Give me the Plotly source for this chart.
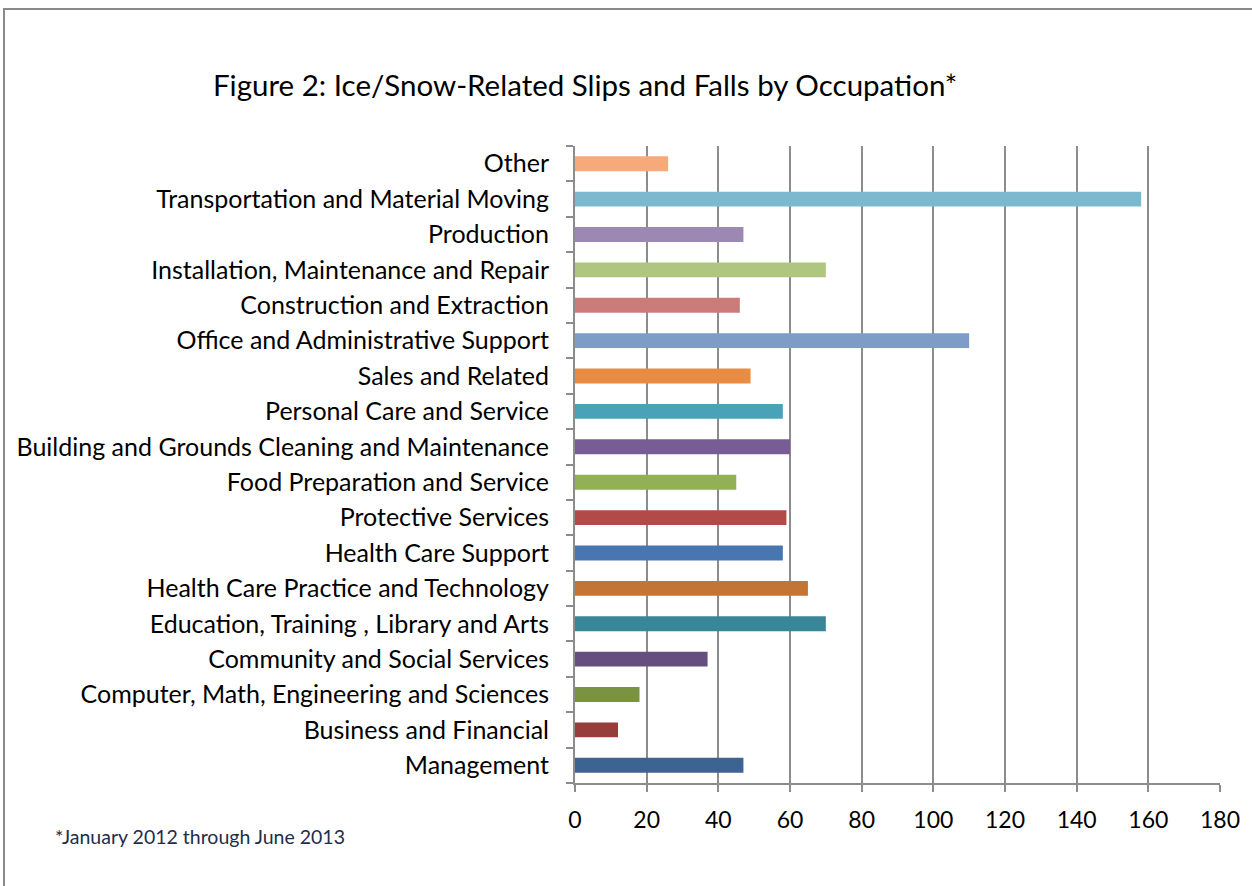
import plotly.graph_objects as go

categories = [
    "Management",
    "Business and Financial",
    "Computer, Math, Engineering and Sciences",
    "Community and Social Services",
    "Education, Training , Library and Arts",
    "Health Care Practice and Technology",
    "Health Care Support",
    "Protective Services",
    "Food Preparation and Service",
    "Building and Grounds Cleaning and Maintenance",
    "Personal Care and Service",
    "Sales and Related",
    "Office and Administrative Support",
    "Construction and Extraction",
    "Installation, Maintenance and Repair",
    "Production",
    "Transportation and Material Moving",
    "Other",
]
values = [47, 12, 18, 37, 70, 65, 58, 59, 45, 60, 58, 49, 110, 46, 70, 47, 158, 26]
colors = [
    "#3D6393", "#973D3C", "#7A9341", "#644F7F", "#3A8699", "#C47534",
    "#4876B0", "#B24A48", "#92B054", "#775C96", "#4AA2B9", "#E88C42",
    "#7D9CC8", "#CB7B7A", "#AEC680", "#9C88B3", "#7DB9CE", "#F7A97A",
]
x_ticks = [0, 20, 40, 60, 80, 100, 120, 140, 160, 180]

FONT = "Lato"
W, H = 1252, 886
L, R, T, B = 575, 32, 146, 103
pw, ph = W - L - R, H - T - B

fig = go.Figure(go.Bar(
    x=values, y=categories, orientation="h",
    marker=dict(color=colors, line=dict(width=0)),
    width=0.42,
))

def px2paper_x(px):
    return (px - L) / pw

def px2paper_y(py):
    return (H - B - py) / ph

fig.add_shape(type="rect", xref="paper", yref="paper",
              x0=px2paper_x(4), x1=px2paper_x(1262),
              y0=px2paper_y(895), y1=px2paper_y(9),
              line=dict(color="#8A8A8A", width=2), fillcolor="rgba(0,0,0,0)",
              layer="below")

fig.add_annotation(text="Figure 2: Ice/Snow-Related Slips and Falls by Occupation*",
                   xref="paper", yref="paper", x=px2paper_x(585), y=px2paper_y(85),
                   xanchor="center", yanchor="middle", showarrow=False,
                   font=dict(family=FONT, size=29.5, color="#000000"))
fig.add_annotation(text="*January 2012 through June 2013",
                   xref="paper", yref="paper", x=px2paper_x(53), y=px2paper_y(837),
                   xanchor="left", yanchor="middle", showarrow=False,
                   font=dict(family=FONT, size=19.5, color="#1F2D4A"))

fig.update_layout(
    width=W, height=H,
    margin=dict(l=L, r=R, t=T, b=B, autoexpand=False),
    paper_bgcolor="white", plot_bgcolor="white",
    showlegend=False,
    font=dict(family=FONT, color="#000000"),
    xaxis=dict(
        range=[0, 180], tickvals=x_ticks, ticktext=[str(v) for v in x_ticks],
        showgrid=True, gridcolor="#8C8C8C", gridwidth=2,
        showline=True, linecolor="#8C8C8C", linewidth=2,
        ticks="outside", ticklen=7, tickcolor="#8C8C8C", tickwidth=2,
        tickfont=dict(size=23, family=FONT, color="#000000"),
        ticklabelstandoff=8,
        zeroline=False, fixedrange=True,
    ),
    yaxis=dict(
        categoryorder="array", categoryarray=categories,
        showgrid=False, showline=True, linecolor="#8C8C8C", linewidth=2,
        ticks="outside", ticklen=7, tickcolor="#8C8C8C", tickwidth=2,
        tickson="boundaries",
        tickfont=dict(size=25, family=FONT, color="#000000"),
        ticklabelstandoff=19,
        zeroline=False, fixedrange=True,
    ),
)

fig.write_html("out.html", config={"displayModeBar": False},
               post_script="document.body.style.margin='0';document.body.style.overflow='hidden';")
